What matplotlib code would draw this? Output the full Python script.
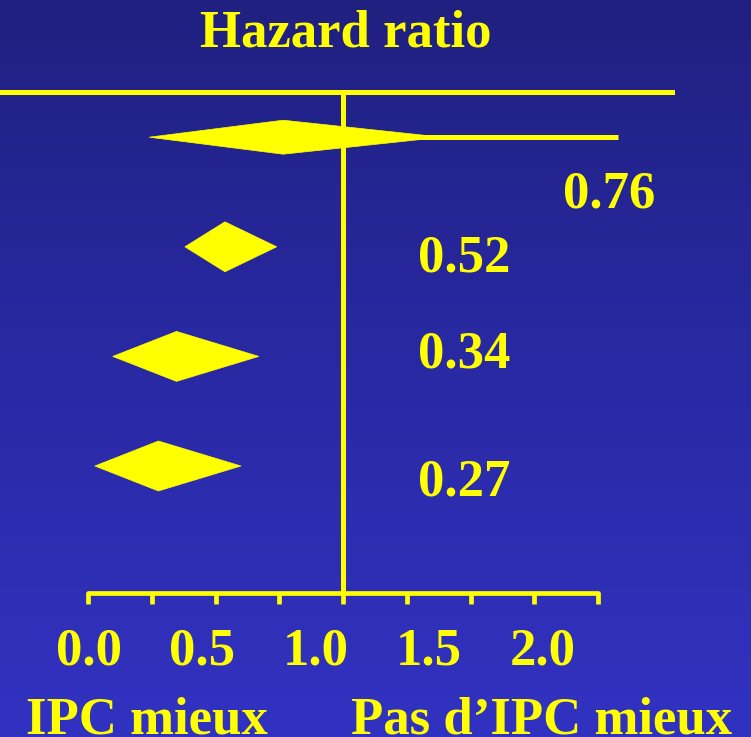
import numpy as np
import matplotlib
matplotlib.use("Agg")
import matplotlib.pyplot as plt

# ---- data ----
row_labels = ["0.76", "0.52", "0.34", "0.27"]        # printed hazard ratios
hr_point = [0.765, 0.537, 0.347, 0.276]              # diamond apex
hr_low = [0.24, 0.38, 0.097, 0.027]                  # diamond left tip
hr_high = [1.39, 0.74, 0.67, 0.60]                   # diamond right tip
whisker_high = [2.08, np.nan, np.nan, np.nan]        # extended CI line
tick_values = [0.0, 0.5, 1.0, 1.5, 2.0]
tick_labels = ["0.0", "0.5", "1.0", "1.5", "2.0"]
minor_ticks = np.arange(0, 2.01, 0.25)
title = "Hazard ratio"
left_caption = "IPC mieux"
right_caption = "Pas d\u2019IPC mieux"

# ---- style / layout ----
YEL = "#FFFF00"
FS = 38
plt.rcParams["font.family"] = ["Liberation Serif", "DejaVu Serif"]
plt.rcParams["font.weight"] = "bold"

W, H = 751, 737
fig = plt.figure(figsize=(W / 100, H / 100), dpi=100)

# background gradient
bg = fig.add_axes([0, 0, 1, 1])
bg.axis("off")
stops_pos = np.array([0.0, 0.5, 1.0])
stops_col = np.array([[32, 32, 128], [41, 41, 164], [50, 50, 194]]) / 255.0
t = np.linspace(0, 1, H)
grad = np.stack([np.interp(t, stops_pos, stops_col[:, c]) for c in range(3)], axis=-1)
bg.imshow(grad[:, None, :], aspect="auto", extent=[0, 1, 0, 1], origin="upper")
bg.set_xlim(0, 1)
bg.set_ylim(0, 1)

# main axes
ax_bottom_px, ax_top_px = 593, 91.7
ax = fig.add_axes([0, 1 - ax_bottom_px / H, 1, (ax_bottom_px - ax_top_px) / H])
ax.set_facecolor("none")
px_per_unit = 255.0
ax.set_xlim(-88 / px_per_unit, (W - 88) / px_per_unit)
row_y0, row_step = 137.2, 109.6
ax.set_ylim((ax_bottom_px - row_y0) / row_step, (ax_top_px - row_y0) / row_step)

for s in ["top", "left", "right"]:
    ax.spines[s].set_visible(False)
ax.spines["bottom"].set_color(YEL)
ax.spines["bottom"].set_linewidth(3.4)
ax.spines["bottom"].set_bounds(0, 2)
ax.spines["bottom"].set_capstyle("round")
ax.set_xticks(minor_ticks)
ax.tick_params(axis="x", direction="out", length=8.2, width=3.4, color=YEL,
               labelbottom=False)
ax.set_yticks([])

# tick labels (offset scale as in the slide)
def fwd(x):
    return (x - 0.004) / 0.8894

def inv(v):
    return 0.004 + 0.8894 * v

sec = ax.secondary_xaxis("bottom", functions=(fwd, inv))
sec.set_xticks(tick_values, labels=tick_labels)
sec.tick_params(length=0, pad=25, labelsize=FS, labelcolor=YEL)
sec.spines["bottom"].set_visible(False)

# frame lines
ax.axhline(ax.get_ylim()[1], xmin=0, xmax=672 / W, color=YEL, lw=3.6, clip_on=False)
ax.axvline(1.0, color=YEL, lw=3.6)

rows = np.arange(len(row_labels))
half_h = [0.155, 0.228, 0.228, 0.228]
label_x = [1.863, 1.294, 1.294, 1.294]
label_dy = [0.643, 0.227, 0.102, 0.265]

for i, r in enumerate(rows):
    if not np.isnan(whisker_high[i]):
        ax.plot([hr_point[i], whisker_high[i]], [r, r], color=YEL, lw=3.6,
                solid_capstyle="butt", zorder=3)
    ax.fill([hr_low[i], hr_point[i], hr_high[i], hr_point[i]],
            [r, r - half_h[i], r, r + half_h[i]],
            color=YEL, lw=0.5, ec=YEL, zorder=4)
    ax.text(label_x[i], r + label_dy[i], row_labels[i], ha="left", va="baseline",
            fontsize=FS, color=YEL, clip_on=False, zorder=5)

fig.text(345.5 / W, 1 - 46.7 / H, title, ha="center", va="baseline",
         fontsize=FS, color=YEL)
fig.text(147 / W, 1 - 734 / H, left_caption, ha="center", va="baseline",
         fontsize=FS, color=YEL)
fig.text(542 / W, 1 - 734 / H, right_caption, ha="center", va="baseline",
         fontsize=FS, color=YEL)

fig.savefig("out.png", dpi=100)
